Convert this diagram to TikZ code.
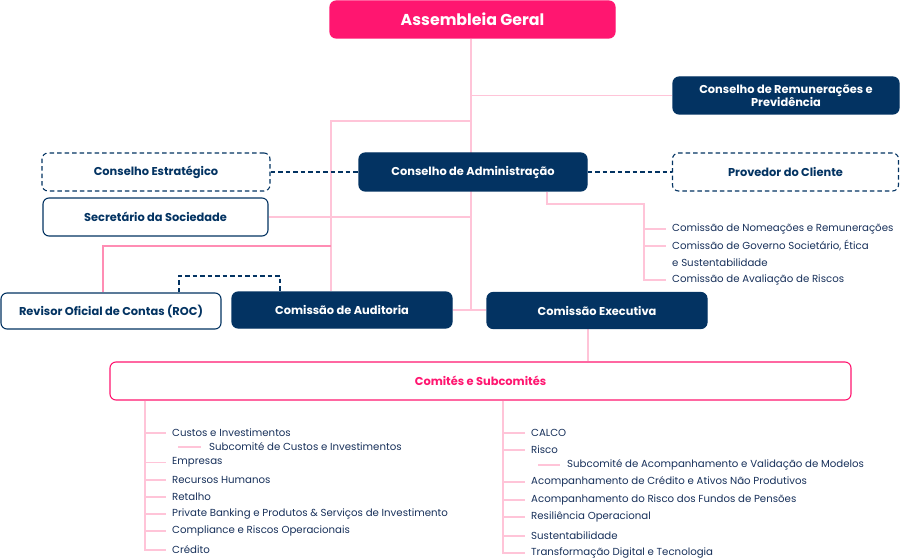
\documentclass[tikz,border=0pt]{standalone}
\usepackage{fontspec}
\setmainfont{Poppins}
\usetikzlibrary{backgrounds}
\definecolor{bpink}{HTML}{FF1670}
\definecolor{navy}{HTML}{033362}
\definecolor{lpink}{HTML}{FFC4D8}
\definecolor{mpink}{HTML}{FF8DB4}
\definecolor{txt}{HTML}{17305A}
\begin{document}
\begin{tikzpicture}[x=1pt,y=-1pt,
  box/.style={rounded corners=6pt,line width=1.1pt,draw=navy,inner sep=0pt,font=\bfseries\fontsize{11.4}{13.5}\selectfont,align=center},
  solidbox/.style={box,fill=navy,text=white},
  openbox/.style={box,fill=white,text=navy},
  dashbox/.style={box,fill=white,text=navy,dash pattern=on 4.5pt off 3pt},
  link/.style={draw=lpink,line width=1.1pt},
  link2/.style={draw=mpink,line width=1.1pt},
  dline/.style={draw=navy,line width=1.1pt,dash pattern=on 4.5pt off 3pt},
  item/.style={anchor=west,inner xsep=0pt,inner ysep=1pt,text=txt,font=\fontsize{10.2}{12}\selectfont}
]
\useasboundingbox (0,0) rectangle (900,559);

% boxes
\node[box,fill=bpink,draw=bpink,text=white,font=\bfseries\fontsize{15.8}{18}\selectfont,minimum width=285pt,minimum height=37pt] (AG) at (472.5,19.5) {Assembleia Geral};
\node[solidbox,minimum width=226pt,minimum height=37pt] (CRP) at (786,95.5) {Conselho de Remunerações e\\Previdência};
\node[dashbox,minimum width=228pt,minimum height=38pt] (CE) at (156,172) {Conselho Estratégico};
\node[solidbox,minimum width=228pt,minimum height=38pt] (CA) at (473,172) {Conselho de Administração};
\node[dashbox,minimum width=226pt,minimum height=38pt] (PC) at (785.5,172) {Provedor do Cliente};
\node[openbox,minimum width=225pt,minimum height=38pt] (SS) at (155.5,217) {Secretário da Sociedade};
\node[openbox,minimum width=220pt,minimum height=36pt] (ROC) at (111,311) {Revisor Oficial de Contas (ROC)};
\node[solidbox,minimum width=220pt,minimum height=36pt] (AUD) at (342,310) {Comissão de Auditoria};
\node[solidbox,minimum width=220pt,minimum height=36pt] (EX) at (597,310.5) {Comissão Executiva};
\node[box,draw=bpink,fill=white,text=bpink,minimum width=741pt,minimum height=38pt] (COM) at (480.5,381) {Comités e Subcomités};

% coordinates
\coordinate (trunk) at (471,0);
\coordinate (lb) at (331,121);
\coordinate (rb) at (103,246);
\coordinate (d1) at (179,276);
\coordinate (d2) at (280,276);
\coordinate (c1) at (547,204);
\coordinate (c2) at (644,204);
\coordinate (cx) at (588,0);
\coordinate (L) at (145,0);
\coordinate (R) at (503,0);

% connectors
\begin{scope}[on background layer]
\draw[link] (AG.south -| trunk) -- (trunk |- AUD.east);
\draw[link] (AUD.east) -- (EX.west |- AUD.east);
\draw[link] (trunk |- CRP.west) -- (CRP.west);
\draw[link] (AUD.north -| lb) -- (lb) -- (lb -| trunk);
\draw[link] (SS.east) -- (SS.east -| trunk);
\draw[link2] (ROC.north -| rb) -- (rb) -- (rb -| lb);
\draw[dline] (CE.east) -- (CA.west);
\draw[dline] (CA.east) -- (PC.west);
\draw[dline] (ROC.north -| d1) -- (d1) -- (d2) -- (AUD.north -| d2);
\draw[link] (EX.south -| cx) -- (COM.north -| cx);
\end{scope}

% CA commissions
\node[item] (n1) at (672,229) {Comissão de Nomeações e Remunerações};
\node[item] (n2) at (672,246) {Comissão de Governo Societário, Ética};
\node[item] (n2b) at (672,262.5) {e Sustentabilidade};
\node[item] (n3) at (672,280) {Comissão de Avaliação de Riscos};
\draw[link] (CA.south -| c1) -- (c1) -- (c2) -- (c2 |- n3.west) -- ([xshift=-6pt]n3.west);
\foreach \n in {n1,n2} \draw[link] (c2 |- \n.west) -- ([xshift=-6pt]\n.west);

% left list
\node[item] (a1) at (172,433) {Custos e Investimentos};
\node[item] (a1s) at (209,447) {Subcomité de Custos e Investimentos};
\node[item] (a2) at (172,462.5) {Empresas};
\node[item] (a3) at (172,480) {Recursos Humanos};
\node[item] (a4) at (172,497) {Retalho};
\node[item] (a5) at (172,514) {Private Banking e Produtos \& Serviços de Investimento};
\node[item] (a6) at (172,531) {Compliance e Riscos Operacionais};
\node[item] (a7) at (172,550) {Crédito};
\draw[link] (COM.south -| L) -- (L |- a7.west) -- ([xshift=-6pt]a7.west);
\foreach \n in {a1,a2,a3,a4,a5,a6} \draw[link] (L |- \n.west) -- ([xshift=-6pt]\n.west);
\draw[link] ([xshift=-31pt]a1s.west) -- ([xshift=-8pt]a1s.west);

% right list
\node[item] (b1) at (531,433) {CALCO};
\node[item] (b2) at (531,450) {Risco};
\node[item] (b2s) at (567,465) {Subcomité de Acompanhamento e Validação de Modelos};
\node[item] (b3) at (531,482) {Acompanhamento de Crédito e Ativos Não Produtivos};
\node[item] (b4) at (531,500) {Acompanhamento do Risco dos Fundos de Pensões};
\node[item] (b5) at (531,517) {Resiliência Operacional};
\node[item] (b6) at (531,536) {Sustentabilidade};
\node[item] (b7) at (531,553) {Transformação Digital e Tecnologia};
\draw[link] (COM.south -| R) -- (R |- b7.west) -- ([xshift=-6pt]b7.west);
\foreach \n in {b1,b2,b3,b4,b5,b6} \draw[link] (R |- \n.west) -- ([xshift=-6pt]\n.west);
\draw[link] ([xshift=-29pt]b2s.west) -- ([xshift=-7pt]b2s.west);
\end{tikzpicture}
\end{document}
